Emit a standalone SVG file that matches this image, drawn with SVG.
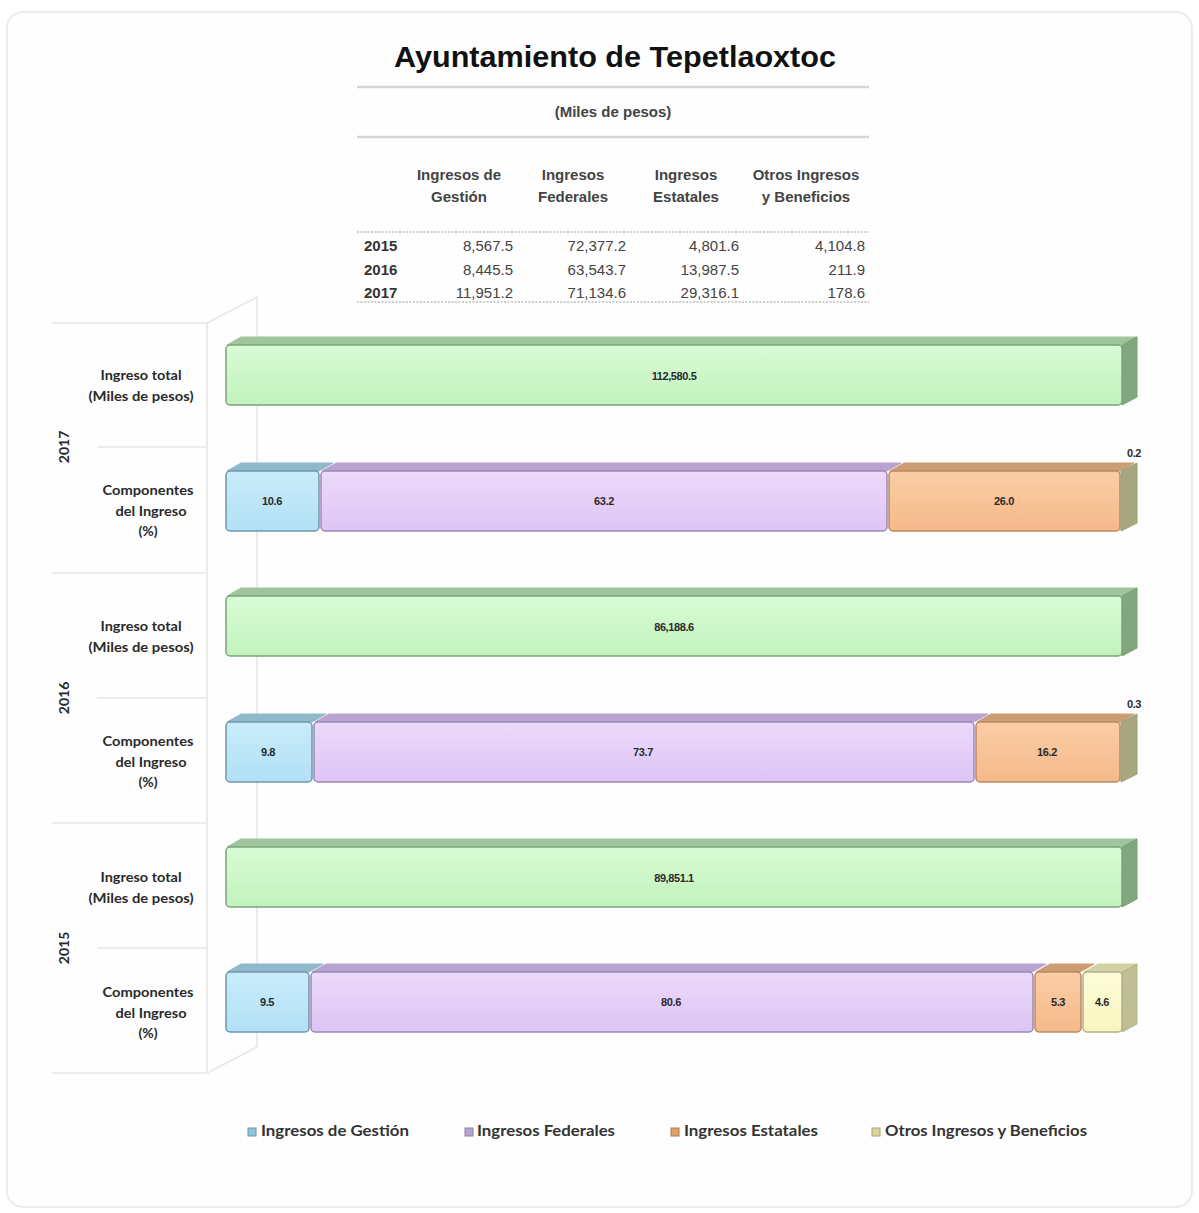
<svg xmlns="http://www.w3.org/2000/svg" width="1199" height="1213" viewBox="0 0 1199 1213">
<defs>
<linearGradient id="gG" x1="0" y1="0" x2="0" y2="1"><stop offset="0" stop-color="#d8fcd4"/><stop offset="1" stop-color="#c2f2be"/></linearGradient>
<linearGradient id="gB" x1="0" y1="0" x2="0" y2="1"><stop offset="0" stop-color="#c9ecfb"/><stop offset="1" stop-color="#b2e0f5"/></linearGradient>
<linearGradient id="gP" x1="0" y1="0" x2="0" y2="1"><stop offset="0" stop-color="#ecd9fb"/><stop offset="1" stop-color="#dec4f5"/></linearGradient>
<linearGradient id="gO" x1="0" y1="0" x2="0" y2="1"><stop offset="0" stop-color="#fbcda6"/><stop offset="1" stop-color="#f5b98a"/></linearGradient>
<linearGradient id="gY" x1="0" y1="0" x2="0" y2="1"><stop offset="0" stop-color="#fefcd9"/><stop offset="1" stop-color="#faf5be"/></linearGradient>
</defs>
<style>
.card{fill:#fefefe;stroke:#ececec;stroke-width:2}
.title{font-family:"Liberation Sans",Arial,sans-serif;font-weight:bold;font-size:30px;fill:#111}
.th{font-family:"Liberation Sans",Arial,sans-serif;font-weight:bold;font-size:15px;fill:#444;text-anchor:middle}
.yr{font-family:"Liberation Sans",Arial,sans-serif;font-weight:bold;font-size:15px;fill:#333}
.val{font-family:"Liberation Sans",Arial,sans-serif;font-size:15px;fill:#444;text-anchor:end}
.rule{stroke:#d6d6d6;stroke-width:2.5}
.dot{stroke:#bdbdbd;stroke-width:1.5;stroke-dasharray:2 1.5}
.frame{stroke:#ebebeb;stroke-width:2;fill:none}
.cat{font-family:Lato,"Open Sans",sans-serif;font-weight:bold;font-size:14px;fill:#2a2a2a;text-anchor:middle}
.year{font-family:Lato,"Open Sans",sans-serif;font-weight:bold;font-size:14px;fill:#2a2a2a;text-anchor:middle}
.bl{font-family:"Liberation Sans",Arial,sans-serif;font-weight:bold;font-size:11px;fill:#2a2a2a;text-anchor:middle;letter-spacing:-0.4px}
.leg{font-family:Lato,"Open Sans",sans-serif;font-weight:bold;font-size:16px;fill:#333}
.fG{fill:url(#gG);stroke:#7ea37b;stroke-width:1.5}
.fB{fill:url(#gB);stroke:#6f97aa;stroke-width:1.5}
.fP{fill:url(#gP);stroke:#9c88b4;stroke-width:1.5}
.fO{fill:url(#gO);stroke:#b98a63;stroke-width:1.5}
.fY{fill:url(#gY);stroke:#b3b08a;stroke-width:1.5}
.tG{fill:#9fc59c;stroke:#9fc59c;stroke-linejoin:round}
.tB{fill:#8fb8cb;stroke:#8fb8cb;stroke-linejoin:round}
.tP{fill:#b8a2d0;stroke:#b8a2d0;stroke-linejoin:round}
.tO{fill:#cc9c73;stroke:#cc9c73;stroke-linejoin:round}
.tY{fill:#d4d1a2;stroke:#d4d1a2;stroke-linejoin:round}
.tK{fill:#a7a680;stroke:#a7a680;stroke-linejoin:round}
.sG{fill:#80a77d;stroke:#7a9f77;stroke-linejoin:round}
.sK{fill:#a7a680;stroke:#9d9c77;stroke-linejoin:round}
.sY{fill:#bfbe95;stroke:#b3b28a;stroke-linejoin:round}
</style>
<rect class="card" x="7" y="12" width="1185" height="1195" rx="16"/>

<g id="title">
<text class="title" x="394" y="67" textLength="442" lengthAdjust="spacingAndGlyphs">Ayuntamiento de Tepetlaoxtoc</text>
</g>

<g id="table">
<line class="rule" x1="357" y1="87" x2="869" y2="87"/>
<text class="th" x="613" y="117">(Miles de pesos)</text>
<line class="rule" x1="357" y1="137" x2="869" y2="137"/>
<text class="th" x="459" y="180">Ingresos de</text>
<text class="th" x="459" y="202">Gestión</text>
<text class="th" x="573" y="180">Ingresos</text>
<text class="th" x="573" y="202">Federales</text>
<text class="th" x="686" y="180">Ingresos</text>
<text class="th" x="686" y="202">Estatales</text>
<text class="th" x="806" y="180">Otros Ingresos</text>
<text class="th" x="806" y="202">y Beneficios</text>
<line class="dot" x1="357" y1="232" x2="869" y2="232"/>
<text class="yr" x="364" y="251">2015</text>
<text class="val" x="513" y="251">8,567.5</text>
<text class="val" x="626" y="251">72,377.2</text>
<text class="val" x="739" y="251">4,801.6</text>
<text class="val" x="865" y="251">4,104.8</text>
<text class="yr" x="364" y="275">2016</text>
<text class="val" x="513" y="275">8,445.5</text>
<text class="val" x="626" y="275">63,543.7</text>
<text class="val" x="739" y="275">13,987.5</text>
<text class="val" x="865" y="275">211.9</text>
<text class="yr" x="364" y="298">2017</text>
<text class="val" x="513" y="298">11,951.2</text>
<text class="val" x="626" y="298">71,134.6</text>
<text class="val" x="739" y="298">29,316.1</text>
<text class="val" x="865" y="298">178.6</text>
<line class="dot" x1="357" y1="302" x2="869" y2="302"/>
</g>

<g id="connectors">
<line class="frame" x1="52" y1="323" x2="207" y2="323"/>
<line class="frame" x1="97" y1="447" x2="207" y2="447"/>
<line class="frame" x1="52" y1="573" x2="207" y2="573"/>
<line class="frame" x1="97" y1="698" x2="207" y2="698"/>
<line class="frame" x1="52" y1="823" x2="207" y2="823"/>
<line class="frame" x1="97" y1="948" x2="207" y2="948"/>
<line class="frame" x1="52" y1="1073" x2="207" y2="1073"/>
<line class="frame" x1="207" y1="323" x2="207" y2="1073"/>
<polyline class="frame" points="207,323 257,297 257,1047 207,1073"/>
</g>

<g id="axis-labels">
<text class="year" transform="translate(69,447) rotate(-90)">2017</text>
<text class="year" transform="translate(69,698) rotate(-90)">2016</text>
<text class="year" transform="translate(69,948) rotate(-90)">2015</text>
<text class="cat" x="141" y="380" textLength="81" lengthAdjust="spacingAndGlyphs">Ingreso total</text>
<text class="cat" x="141" y="401" textLength="105" lengthAdjust="spacingAndGlyphs">(Miles de pesos)</text>
<text class="cat" x="148" y="495" textLength="91" lengthAdjust="spacingAndGlyphs">Componentes</text>
<text class="cat" x="151" y="516" textLength="71" lengthAdjust="spacingAndGlyphs">del Ingreso</text>
<text class="cat" x="148" y="536">(%)</text>
<text class="cat" x="141" y="631" textLength="81" lengthAdjust="spacingAndGlyphs">Ingreso total</text>
<text class="cat" x="141" y="652" textLength="105" lengthAdjust="spacingAndGlyphs">(Miles de pesos)</text>
<text class="cat" x="148" y="746" textLength="91" lengthAdjust="spacingAndGlyphs">Componentes</text>
<text class="cat" x="151" y="767" textLength="71" lengthAdjust="spacingAndGlyphs">del Ingreso</text>
<text class="cat" x="148" y="787">(%)</text>
<text class="cat" x="141" y="882" textLength="81" lengthAdjust="spacingAndGlyphs">Ingreso total</text>
<text class="cat" x="141" y="903" textLength="105" lengthAdjust="spacingAndGlyphs">(Miles de pesos)</text>
<text class="cat" x="148" y="997" textLength="91" lengthAdjust="spacingAndGlyphs">Componentes</text>
<text class="cat" x="151" y="1018" textLength="71" lengthAdjust="spacingAndGlyphs">del Ingreso</text>
<text class="cat" x="148" y="1038">(%)</text>
</g>

<g id="bar-2017-total">
<polygon class="tG" points="227,345 241,337 1137,337 1122,345"/>
<polygon class="sG" points="1122,345 1137,337 1137,397 1122,405"/>
<rect class="fG" x="226" y="345" width="896" height="60" rx="4"/>
<text class="bl" x="674" y="380">112,580.5</text>
</g>

<g id="bar-2017-components">
<polygon class="tB" points="227,471 241,463 333,463 319,471"/>
<rect class="fB" x="226" y="471" width="93" height="60" rx="4"/>
<polygon class="tP" points="322,471 336,463 901,463 887,471"/>
<rect class="fP" x="321" y="471" width="566" height="60" rx="4"/>
<polygon class="tO" points="890,471 904,463 1134,463 1120,471"/>
<rect class="fO" x="889" y="471" width="231" height="60" rx="4"/>
<polygon class="sK" points="1121,471 1137,463 1137,523 1121,531"/>
<text class="bl" x="272" y="505">10.6</text>
<text class="bl" x="604" y="505">63.2</text>
<text class="bl" x="1004" y="505">26.0</text>
<text class="bl" x="1134" y="457">0.2</text>
</g>

<g id="bar-2016-total">
<polygon class="tG" points="227,596 241,588 1137,588 1122,596"/>
<polygon class="sG" points="1122,596 1137,588 1137,648 1122,656"/>
<rect class="fG" x="226" y="596" width="896" height="60" rx="4"/>
<text class="bl" x="674" y="631">86,188.6</text>
</g>

<g id="bar-2016-components">
<polygon class="tB" points="227,722 241,714 326,714 312,722"/>
<rect class="fB" x="226" y="722" width="86" height="60" rx="4"/>
<polygon class="tP" points="315,722 329,714 988,714 974,722"/>
<rect class="fP" x="314" y="722" width="660" height="60" rx="4"/>
<polygon class="tO" points="977,722 991,714 1134,714 1120,722"/>
<rect class="fO" x="976" y="722" width="144" height="60" rx="4"/>
<polygon class="sK" points="1121,722 1137,714 1137,774 1121,782"/>
<text class="bl" x="268" y="756">9.8</text>
<text class="bl" x="643" y="756">73.7</text>
<text class="bl" x="1047" y="756">16.2</text>
<text class="bl" x="1134" y="708">0.3</text>
</g>

<g id="bar-2015-total">
<polygon class="tG" points="227,847 241,839 1137,839 1122,847"/>
<polygon class="sG" points="1122,847 1137,839 1137,899 1122,907"/>
<rect class="fG" x="226" y="847" width="896" height="60" rx="4"/>
<text class="bl" x="674" y="882">89,851.1</text>
</g>

<g id="bar-2015-components">
<polygon class="tB" points="227,972 241,964 323,964 309,972"/>
<rect class="fB" x="226" y="972" width="83" height="60" rx="4"/>
<polygon class="tP" points="312,972 326,964 1046,964 1032,972"/>
<rect class="fP" x="311" y="972" width="722" height="60" rx="4"/>
<polygon class="tO" points="1036,972 1050,964 1094,964 1080,972"/>
<rect class="fO" x="1035" y="972" width="46" height="60" rx="4"/>
<polygon class="tY" points="1084,972 1098,964 1137,964 1122,972"/>
<polygon class="sY" points="1122,972 1137,964 1137,1024 1122,1032"/>
<rect class="fY" x="1083" y="972" width="39" height="60" rx="4"/>
<text class="bl" x="267" y="1006">9.5</text>
<text class="bl" x="671" y="1006">80.6</text>
<text class="bl" x="1058" y="1006">5.3</text>
<text class="bl" x="1102" y="1006">4.6</text>
</g>

<g id="legend">
<rect x="248" y="1128" width="8" height="8" fill="#8fc4dc" stroke="#6f97aa" stroke-width="1"/>
<text class="leg" x="261" y="1136" textLength="148" lengthAdjust="spacingAndGlyphs">Ingresos de Gestión</text>
<rect x="465" y="1128" width="8" height="8" fill="#b8a2d0" stroke="#8f7fa8" stroke-width="1"/>
<text class="leg" x="477" y="1136" textLength="138" lengthAdjust="spacingAndGlyphs">Ingresos Federales</text>
<rect x="671" y="1128" width="8" height="8" fill="#e0a070" stroke="#b07a50" stroke-width="1"/>
<text class="leg" x="684" y="1136" textLength="134" lengthAdjust="spacingAndGlyphs">Ingresos Estatales</text>
<rect x="872" y="1128" width="8" height="8" fill="#d8d49c" stroke="#a9a67c" stroke-width="1"/>
<text class="leg" x="885" y="1136" textLength="202" lengthAdjust="spacingAndGlyphs">Otros Ingresos y Beneficios</text>
</g>
</svg>
